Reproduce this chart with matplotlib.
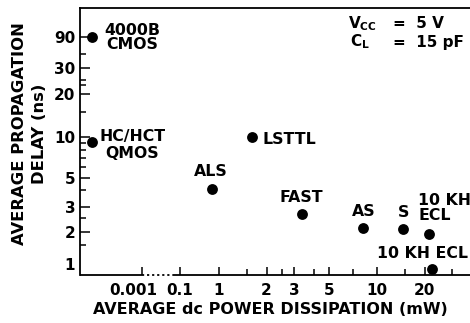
import numpy as np
import matplotlib
matplotlib.use("Agg")
import matplotlib.pyplot as plt
import matplotlib.transforms as mtransforms
from matplotlib.ticker import FixedLocator, FixedFormatter, NullFormatter

# ---- data ----
devices = ["4000B\nCMOS", "HC/HCT\nQMOS", "ALS", "LSTTL", "FAST", "AS", "S",
           "10 KH\nECL", "10 KH ECL"]
power_mw = [1e-5, 1e-5, 0.67, 1.61, 3.34, 8.2, 14.7, 21.4, 22.2]
delay_ns = [90, 9.2, 4.1, 10, 2.67, 2.15, 2.1, 1.93, 0.90]

x_major = [0.001, 0.1, 1, 2, 3, 5, 10, 20]
x_major_labels = ["0.001", "0.1", "1", "2", "3", "5", "10", "20"]
x_minor = [1.5, 2.5, 4, 7, 15, 30]
y_major = [1, 2, 3, 5, 10, 20, 30, 90]
y_major_labels = ["1", "2", "3", "5", "10", "20", "30", "90"]
y_minor = [1.5, 2.5, 4, 6, 7, 8, 9, 15, 23, 25, 50]

# label styling: (offset x px, offset y px, ha, linespacing)
label_style = [(40, 0, "center", 0.95), (40, -3.5, "center", 1.17),
               (-1, 17, "center", 1.0), (38, -2, "center", 1.0),
               (0, 16.5, "center", 1.0), (0, 16, "center", 1.0),
               (0, 17, "center", 1.0), (-11, 26, "left", 1.02),
               (-9, 15, "center", 1.0)]

plt.rcParams["font.family"] = ["DejaVu Sans"]
plt.rcParams["font.weight"] = "bold"
plt.rcParams["mathtext.fontset"] = "custom"
plt.rcParams["mathtext.rm"] = "DejaVu Sans:bold"
plt.rcParams["mathtext.bf"] = "DejaVu Sans:bold"
plt.rcParams["mathtext.it"] = "DejaVu Sans:bold"

# ---- hand-drawn (broken) log scales ----
xk_log = np.array([-7.0, -3.0, -1.0, 0.0, 2.5])
xk_u = np.array([80 - 1.5 * 24.7, 141.7, 180.0, 219.0, 219.0 + 2.5 * 158.0])

yk_log = np.log10([0.5, 1, 2, 3, 5, 10, 20, 30, 90, 1000])
yk_px = np.array([295.7, 264, 232.3, 206.7, 177.7, 137, 94.3, 68.3, 37.3,
                  37.3 - (3 - np.log10(90)) * 65])
yk_u = -yk_px


def _log(v):
    v = np.asarray(v, float)
    return np.log10(np.where(v > 0, v, 1e-300))


def xf(v):
    return np.interp(_log(v), xk_log, xk_u)


def xi(u):
    return 10 ** np.interp(np.asarray(u, float), xk_u, xk_log)


def yf(v):
    return np.interp(_log(v), yk_log, yk_u)


def yi(u):
    return 10 ** np.interp(np.asarray(u, float), yk_u, yk_log)


W, H = 470, 323
fig = plt.figure(figsize=(W / 100, H / 100), dpi=100)
left_px, right_px, top_px, bot_px = 80, 470, 8.3, 274.5
ax = fig.add_axes([left_px / W, (H - bot_px) / H, (right_px - left_px) / W,
                   (bot_px - top_px) / H])
ax.set_xscale("function", functions=(xf, xi))
ax.set_yscale("function", functions=(yf, yi))
ax.set_xlim(float(xi(left_px)), float(xi(right_px)))
ax.set_ylim(float(yi(-bot_px)), float(yi(-top_px)))

ax.scatter(power_mw, delay_ns, s=7.8 ** 2, color="black", zorder=5,
           clip_on=False, linewidths=0)

for name, x, y, (dx, dy, ha, ls) in zip(devices, power_mw, delay_ns, label_style):
    ax.annotate(name, (x, y), xytext=(dx, dy), textcoords="offset pixels",
                ha=ha, va="center", fontsize=11.3, fontweight="bold",
                linespacing=ls, multialignment="left" if ha == "left" else "center",
                annotation_clip=False)

# spines
lw = 1.3
ax.spines["right"].set_visible(False)
ax.spines["bottom"].set_visible(False)
for s in ("left", "top"):
    ax.spines[s].set_linewidth(lw)
xt = ax.get_xaxis_transform()
x0, x1 = ax.get_xlim()
ax.plot([x0, 0.001], [0, 0], transform=xt, color="black", lw=lw, clip_on=False,
        solid_capstyle="butt")
ax.plot([0.001, 0.043], [0, 0], transform=xt, color="black", lw=lw,
        linestyle=(0, (1.2, 1.6)), clip_on=False)
ax.plot([0.043, x1], [0, 0], transform=xt, color="black", lw=lw, clip_on=False,
        solid_capstyle="butt")

# ticks
ax.xaxis.set_major_locator(FixedLocator(x_major))
ax.xaxis.set_major_formatter(FixedFormatter(x_major_labels))
ax.xaxis.set_minor_locator(FixedLocator(x_minor))
ax.xaxis.set_minor_formatter(NullFormatter())
ax.yaxis.set_major_locator(FixedLocator(y_major))
ax.yaxis.set_major_formatter(FixedFormatter(y_major_labels))
ax.yaxis.set_minor_locator(FixedLocator(y_minor))
ax.yaxis.set_minor_formatter(NullFormatter())

ax.tick_params(axis="both", which="both", direction="in", width=1.1,
               colors="black", labelsize=11, top=False, right=False)
ax.tick_params(axis="x", which="major", length=6, pad=6)
ax.tick_params(axis="x", which="minor", length=4.5)
ax.tick_params(axis="y", which="major", length=7, pad=3.5)
ax.tick_params(axis="y", which="minor", length=4.5)
for lab in ax.get_xticklabels() + ax.get_yticklabels():
    lab.set_fontweight("bold")
yticks = ax.yaxis.get_major_ticks()
yticks[0].tick1line.set_visible(False)
xticks = ax.xaxis.get_major_ticks()
shift = mtransforms.ScaledTranslation(-8 / 100, 0, fig.dpi_scale_trans)
xticks[0].label1.set_transform(xticks[0].label1.get_transform() + shift)

ax.set_xlabel("AVERAGE dc POWER DISSIPATION (mW)", fontsize=11.5, fontweight="bold")
ax.xaxis.label.set_verticalalignment("center")
ax.xaxis.set_label_coords((270 - left_px) / 390, (bot_px - 310) / (bot_px - top_px))
ax.set_ylabel("AVERAGE PROPAGATION\nDELAY (ns)", fontsize=11.8, fontweight="bold",
              linespacing=1.4)
ax.yaxis.label.set_verticalalignment("center")
ax.yaxis.set_label_coords((29.5 - left_px) / 390, (bot_px - 134) / (bot_px - top_px))

# conditions text
fig.text(348 / W, 1 - 28.5 / H, r"$\mathbf{V}_{\mathbf{CC}}$", fontsize=11,
         ha="left", va="baseline")
fig.text(393 / W, 1 - 28.5 / H, "=  5 V", fontsize=11, fontweight="bold",
         ha="left", va="baseline")
fig.text(350 / W, 1 - 46.7 / H, r"$\mathbf{C}_{\mathbf{L}}$", fontsize=11,
         ha="left", va="baseline")
fig.text(393 / W, 1 - 46.7 / H, "=  15 pF", fontsize=11, fontweight="bold",
         ha="left", va="baseline")

fig.savefig("out.png", dpi=100, facecolor="white")
